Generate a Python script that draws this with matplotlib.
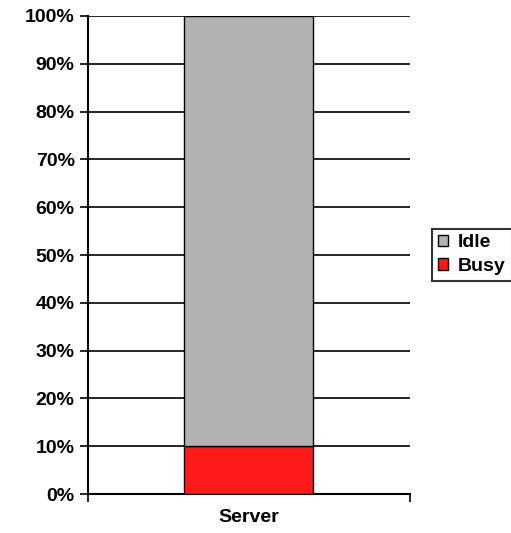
import matplotlib.pyplot as plt
from matplotlib.ticker import FuncFormatter
from matplotlib.patches import Patch

categories = ["Server"]
busy = [10]
idle = [90]
series_names = ["Idle", "Busy"]
colors = {"Idle": "#b2b2b2", "Busy": "#ff1a1a"}

plt.rcParams['font.family'] = ['Liberation Sans', 'DejaVu Sans']
plt.rcParams['font.weight'] = 'bold'

fig = plt.figure(figsize=(5.11, 5.33), dpi=100)
ax = fig.add_axes([0.172, 0.073, 0.630, 0.897])

x = range(len(categories))
ax.bar(x, busy, width=0.4, color=colors["Busy"], edgecolor="black", linewidth=1, zorder=3)
ax.bar(x, idle, bottom=busy, width=0.4, color=colors["Idle"], edgecolor="black", linewidth=1, zorder=3)

ax.set_xlim(-0.5, 0.5)
ax.set_ylim(0, 100)
ax.set_yticks(range(0, 101, 10))
ax.yaxis.set_major_formatter(FuncFormatter(lambda v, p: f"{int(v)}%"))
ax.yaxis.grid(True, color="black", linewidth=1.2, zorder=0)
ax.set_xticks([-0.5, 0.5])
ax.set_xticklabels(["", ""])
ax.tick_params(axis="both", direction="out", length=6, width=1.2, labelsize=14)
for s in ["top", "right"]:
    ax.spines[s].set_visible(False)
for s in ["left", "bottom"]:
    ax.spines[s].set_linewidth(1.5)
ax.text(0, -5.0, categories[0], ha="center", va="center", fontsize=14, fontweight="bold")

handles = [Patch(facecolor=colors[n], edgecolor="black", label=n) for n in series_names]
leg = fig.legend(handles=handles, loc="center left", bbox_to_anchor=(0.845, 0.522),
                 frameon=True, fancybox=False, edgecolor="black", fontsize=14,
                 handlelength=0.55, handleheight=0.55, handletextpad=0.5,
                 borderpad=0.3, labelspacing=0.35, borderaxespad=0)
leg.get_frame().set_linewidth(1.5)

fig.savefig("out.png", dpi=100)
